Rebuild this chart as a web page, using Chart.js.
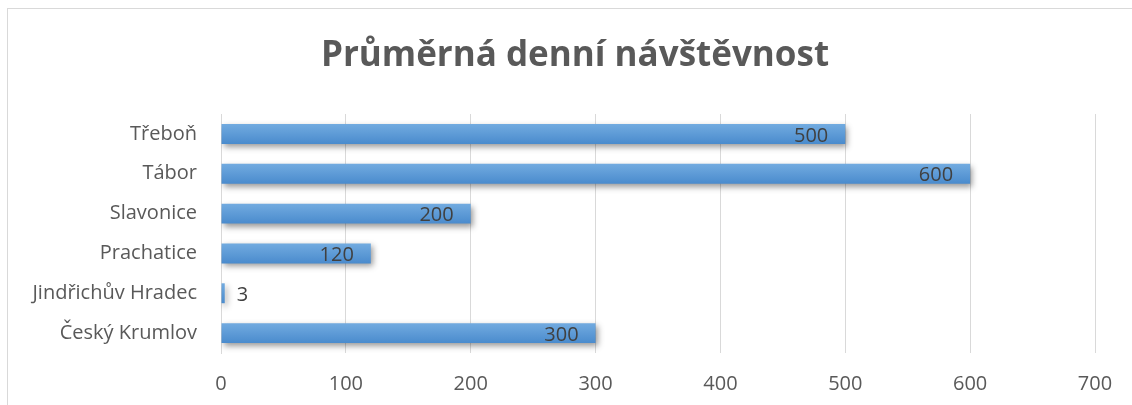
<!DOCTYPE html>
<html>
<head>
<meta charset="utf-8">
<script src="https://cdn.jsdelivr.net/npm/chart.js@4.4.1/dist/chart.umd.min.js"></script>
<style>
  html, body { margin: 0; padding: 0; background: #fff; overflow: hidden; }
  #frame { position: absolute; left: 7px; top: 8px; width: 1130px; height: 420px; border: 1px solid #d9d9d9; }
  #wrap { position: absolute; left: 0; top: 0; width: 1132px; height: 405px; }
</style>
</head>
<body>
<div id="frame"></div>
<div id="wrap"><canvas id="myChart"></canvas></div>
<script>
// data, top to bottom as in the picture
const cities = ['Třeboň', 'Tábor', 'Slavonice', 'Prachatice', 'Jindřichův Hradec', 'Český Krumlov'];
const visitors = [500, 600, 200, 120, 3, 300];
const xTicks = [0, 100, 200, 300, 400, 500, 600, 700];
const chartTitle = 'Průměrná denní návštěvnost';

const font = { family: "'Open Sans', sans-serif" };

// blue gradient per bar
function barColor(ctx) {
  const chart = ctx.chart;
  const yScale = chart.scales.y;
  if (!yScale || ctx.dataIndex === undefined) return '#5b9bd5';
  const yc = yScale.getPixelForValue(ctx.dataIndex);
  if (!isFinite(yc)) return '#5b9bd5';
  const g = chart.ctx.createLinearGradient(0, yc - 10, 0, yc + 10);
  g.addColorStop(0, '#72abe0');
  g.addColorStop(1, '#4a8bcd');
  return g;
}

// soft drop shadow under the bars
const barShadow = {
  id: 'barShadow',
  beforeDatasetsDraw(chart) {
    const c = chart.ctx;
    c.save();
    c.shadowColor = 'rgba(0,0,0,0.4)';
    c.shadowBlur = 6;
    c.shadowOffsetX = 2;
    c.shadowOffsetY = 3;
  },
  afterDatasetsDraw(chart) {
    chart.ctx.restore();
  }
};

// value labels: inside end, or outside when the bar is too short
const valueLabels = {
  id: 'valueLabels',
  afterDatasetsDraw(chart) {
    const c = chart.ctx;
    const meta = chart.getDatasetMeta(0);
    c.save();
    c.font = "20px 'Open Sans', sans-serif";
    c.fillStyle = '#404040';
    c.textBaseline = 'middle';
    meta.data.forEach((bar, i) => {
      const v = visitors[i];
      const w = bar.x - bar.base;
      if (w > 50) {
        c.textAlign = 'right';
        c.fillText(String(v), bar.x - 17, bar.y + 2);
      } else {
        c.textAlign = 'left';
        c.fillText(String(v), bar.x + 12, bar.y + 2);
      }
    });
    c.restore();
  }
};

// title centred on the frame rather than the plot
const titleText = {
  id: 'titleText',
  afterDraw(chart) {
    const c = chart.ctx;
    c.save();
    c.font = "bold 35px 'Open Sans', sans-serif";
    c.fillStyle = '#595959';
    c.textAlign = 'center';
    c.textBaseline = 'middle';
    c.fillText(chartTitle, 575, 56);
    c.restore();
  }
};

const data = {
  labels: cities,
  datasets: [{
    data: visitors,
    backgroundColor: barColor,
    borderWidth: 0,
    categoryPercentage: 1,
    barPercentage: 0.5
  }]
};

const myChart = new Chart(document.getElementById('myChart'), {
  type: 'bar',
  data,
  plugins: [barShadow, valueLabels, titleText],
  options: {
    indexAxis: 'y',
    responsive: true,
    maintainAspectRatio: false,
    animation: false,
    layout: { padding: { left: 8, right: 37, top: 114, bottom: 0 } },
    plugins: {
      legend: { display: false },
      tooltip: { enabled: false },
      title: { display: false }
    },
    scales: {
      x: {
        min: 0,
        max: 700,
        afterBuildTicks(axis) { axis.ticks = xTicks.map(v => ({ value: v })); },
        afterFit(axis) { axis.height = 52; },
        grid: { color: '#d9d9d9', drawTicks: false },
        border: { display: false },
        ticks: { color: '#595959', padding: 19, font: { family: font.family, size: 20 } }
      },
      y: {
        afterFit(axis) { axis.width = 213; },
        grid: { display: false },
        border: { color: '#d9d9d9', width: 1 },
        ticks: { color: '#595959', padding: 16, font: { family: font.family, size: 20 } }
      }
    }
  }
});
</script>
</body>
</html>
